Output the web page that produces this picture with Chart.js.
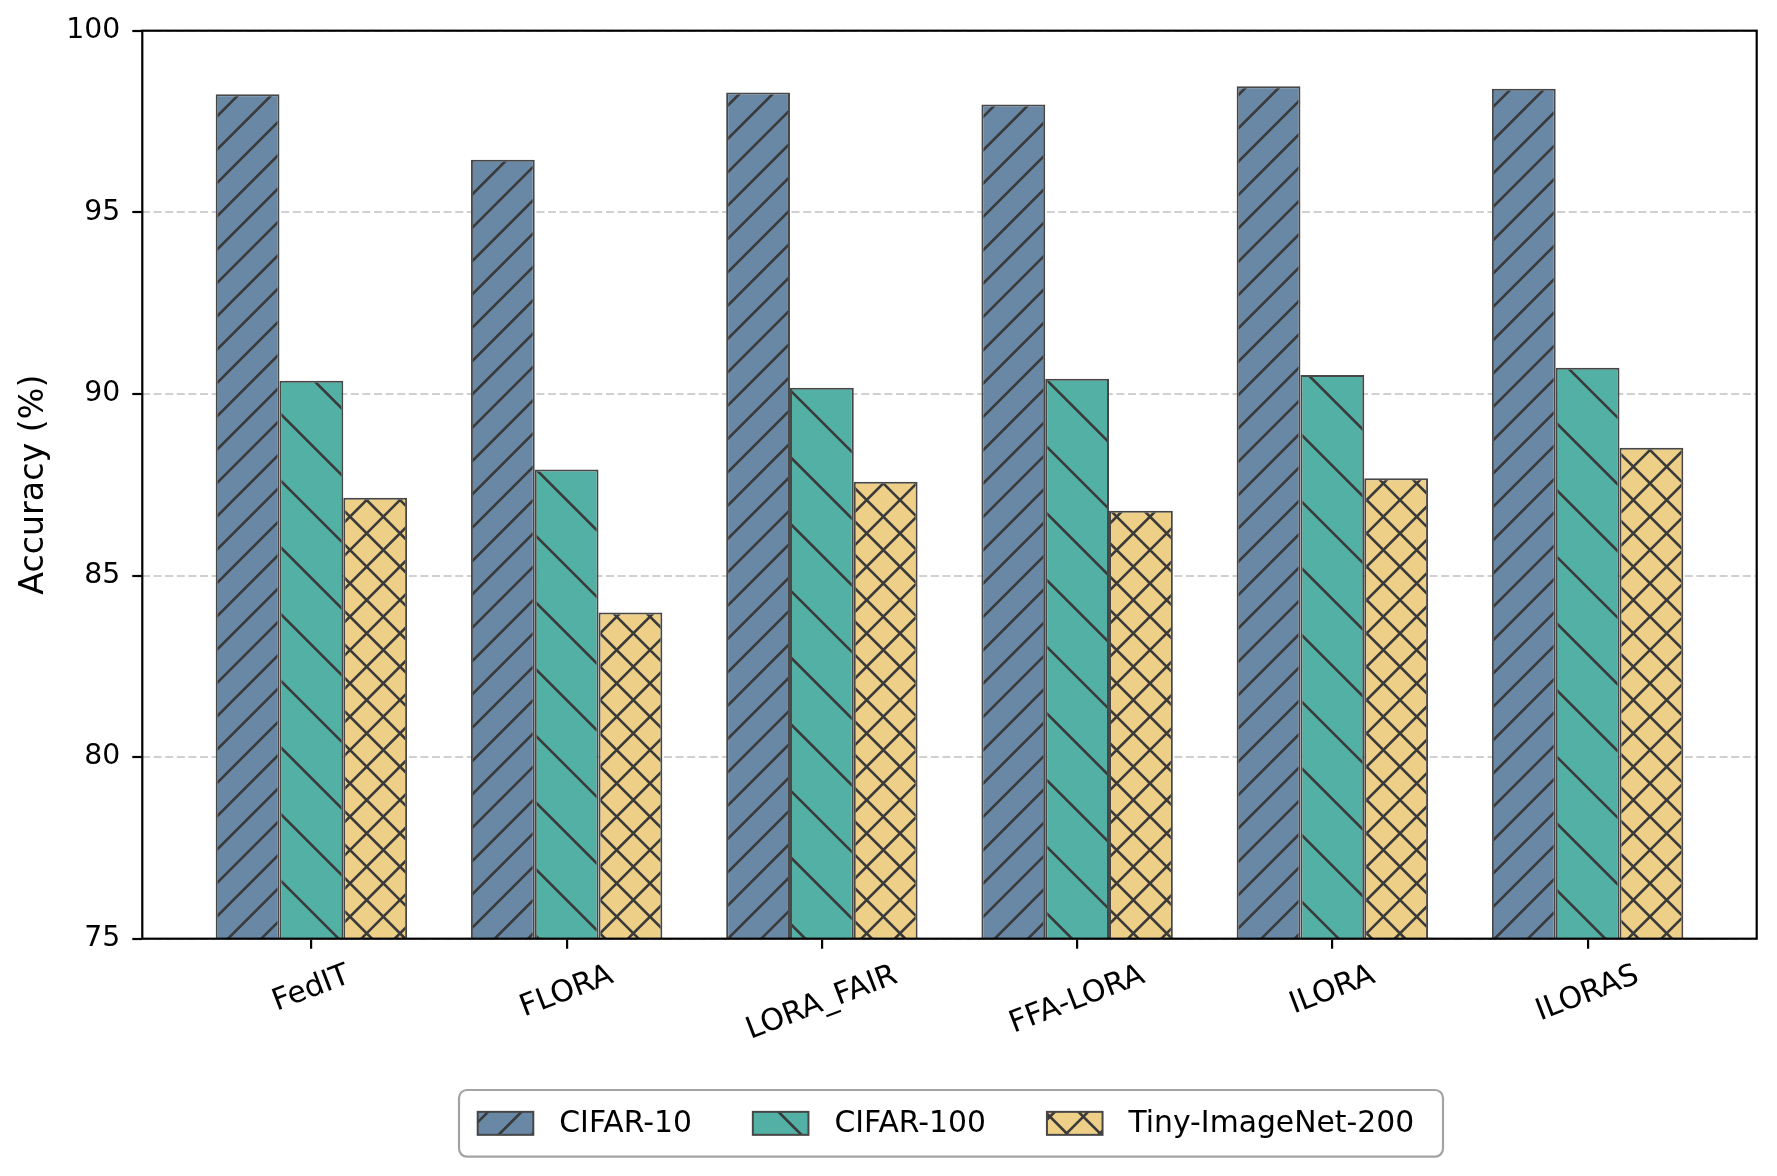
<!DOCTYPE html>
<html>
<head>
<meta charset="utf-8">
<script src="https://cdn.jsdelivr.net/npm/chart.js@4.4.0/dist/chart.umd.min.js"></script>
<style>
  html, body { margin: 0; padding: 0; background: #fff; }
  #wrap { width: 1777px; height: 1176px; }
</style>
</head>
<body>
<div id="wrap"><canvas id="accChart"></canvas></div>
<script>
// data
const methods = ["FedIT", "FLORA", "LORA_FAIR", "FFA-LORA", "ILORA", "ILORAS"];
const seriesNames = ["CIFAR-10", "CIFAR-100", "Tiny-ImageNet-200"];
const cifar10 = [98.25, 96.45, 98.3, 97.97, 98.47, 98.4];
const cifar100 = [90.36, 87.92, 90.17, 90.42, 90.52, 90.72];
const tinyImageNet = [87.14, 83.98, 87.58, 86.78, 87.68, 88.52];
const yTicks = [75, 80, 85, 90, 95, 100];

const canvas = document.getElementById("accChart");
const edgeColor = "#474747";
const hatchColor = "#3a3a3a";

// matplotlib-like hatches built as canvas patterns
function hatch(kind, fill) {
    const size = kind === "\\" ? 200 : 100;
    const tile = document.createElement("canvas");
    tile.width = tile.height = size;
    const g = tile.getContext("2d");
    g.fillStyle = fill;
    g.fillRect(0, 0, size, size);
    g.strokeStyle = hatchColor;
    g.lineWidth = 2.6;
    const step = size / 3;
    g.beginPath();
    if (kind === "/" || kind === "x") {
        for (let k = -1; k <= 7; k++) {
            const c = k * step; // x + y = c
            g.moveTo(c + 20, -20);
            g.lineTo(c - size - 20, size + 20);
        }
    }
    if (kind === "\\" || kind === "x") {
        for (let k = -4; k <= 4; k++) {
            const c = k * step; // y - x = c
            g.moveTo(-20, c - 20);
            g.lineTo(size + 20, c + size + 20);
        }
    }
    g.stroke();
    return canvas.getContext("2d").createPattern(tile, "repeat");
}

const toPoints = (arr) => arr.map((v, i) => ({ x: i, y: v }));

// frame, rotated x labels, y title and boxed legend
const decorations = {
    id: "decorations",
    afterDatasetsDraw(chart) {
        const { ctx, chartArea: a } = chart;
        ctx.save();
        ctx.strokeStyle = "#000";
        ctx.lineWidth = 2.2;
        ctx.strokeRect(a.left, a.top, a.right - a.left, a.bottom - a.top);
        ctx.restore();
    },
    afterDraw(chart) {
        const { ctx, chartArea: a, scales } = chart;
        ctx.save();
        ctx.fillStyle = "#000";

        // x tick labels, rotated and centred under the tick
        const angle = 21 * Math.PI / 180;
        const fs = 30;
        ctx.font = fs + "px 'DejaVu Sans'";
        ctx.textAlign = "center";
        ctx.textBaseline = "middle";
        methods.forEach((m, i) => {
            const x = scales.x.getPixelForValue(i);
            const w = ctx.measureText(m).width;
            const h = fs * 1.16;
            const boxH = w * Math.sin(angle) + h * Math.cos(angle);
            const y = a.bottom + 10 + 9.7 + boxH / 2;
            ctx.save();
            ctx.translate(x, y);
            ctx.rotate(-angle);
            ctx.fillText(m, 0, 0);
            ctx.restore();
        });

        // y axis title
        ctx.save();
        ctx.font = "33.3px 'DejaVu Sans'";
        ctx.translate(34, (a.top + a.bottom) / 2);
        ctx.rotate(-Math.PI / 2);
        ctx.fillText("Accuracy (%)", 0, 0);
        ctx.restore();

        // legend
        const box = { left: 459, top: 1090, right: 1443, bottom: 1156.7 };
        ctx.strokeStyle = "#a3a3a3";
        ctx.lineWidth = 2.2;
        ctx.beginPath();
        ctx.roundRect(box.left, box.top, box.right - box.left, box.bottom - box.top, 8);
        ctx.stroke();

        ctx.font = "29.8px 'DejaVu Sans'";
        ctx.textAlign = "left";
        const handleW = 55.6, handleH = 23, textGap = 26, colGap = 61;
        const midY = (box.top + box.bottom) / 2;
        let x = 477.7;
        chart.data.datasets.forEach((ds) => {
            ctx.fillStyle = ds.backgroundColor;
            ctx.fillRect(x, midY - handleH / 2, handleW, handleH);
            ctx.strokeStyle = edgeColor;
            ctx.lineWidth = 2;
            ctx.strokeRect(x, midY - handleH / 2, handleW, handleH);
            ctx.fillStyle = "#000";
            ctx.fillText(ds.label, x + handleW + textGap, midY + 1);
            x += handleW + textGap + ctx.measureText(ds.label).width + colGap;
        });
        ctx.restore();
    }
};

Chart.defaults.font.family = "'DejaVu Sans'";

new Chart(canvas, {
    type: "bar",
    data: {
        datasets: [
            { label: seriesNames[0], data: toPoints(cifar10), backgroundColor: hatch("/", "#6888a6") },
            { label: seriesNames[1], data: toPoints(cifar100), backgroundColor: hatch("\\", "#52b0a4") },
            { label: seriesNames[2], data: toPoints(tinyImageNet), backgroundColor: hatch("x", "#edcf88") },
        ],
    },
    options: {
        responsive: true,
        maintainAspectRatio: false,
        animation: false,
        layout: { padding: { left: 0, top: 30.7, right: 20.3, bottom: 0 } },
        datasets: {
            bar: {
                categoryPercentage: 0.75,
                barPercentage: 1.0,
                borderColor: edgeColor,
                borderWidth: 2,
                borderSkipped: false,
            },
        },
        plugins: { legend: { display: false }, tooltip: { enabled: false } },
        scales: {
            x: {
                type: "linear",
                min: -0.6625,
                max: 5.6625,
                offset: false,
                ticks: { stepSize: 1, includeBounds: false, display: false },
                grid: {
                    offset: false,
                    drawOnChartArea: false,
                    drawTicks: true,
                    tickLength: 10,
                    tickColor: "#000",
                    tickWidth: 2.2,
                    lineWidth: 2.2,
                },
                border: { display: false },
                afterFit: (s) => { s.height = 1176 - 938.7; },
            },
            y: {
                min: 75,
                max: 100,
                afterBuildTicks: (s) => { s.ticks = yTicks.map((v) => ({ value: v })); },
                ticks: { color: "#000", padding: 12, font: { size: 28.3 } },
                grid: {
                    color: "#d0d0d0",
                    lineWidth: 2,
                    tickColor: "#000",
                    tickWidth: 2.2,
                    tickLength: 10,
                    tickBorderDash: [],
                },
                border: { display: false, dash: [8, 3.6] },
                afterFit: (s) => { s.width = 142.3; },
            },
        },
    },
    plugins: [decorations],
});
</script>
</body>
</html>
